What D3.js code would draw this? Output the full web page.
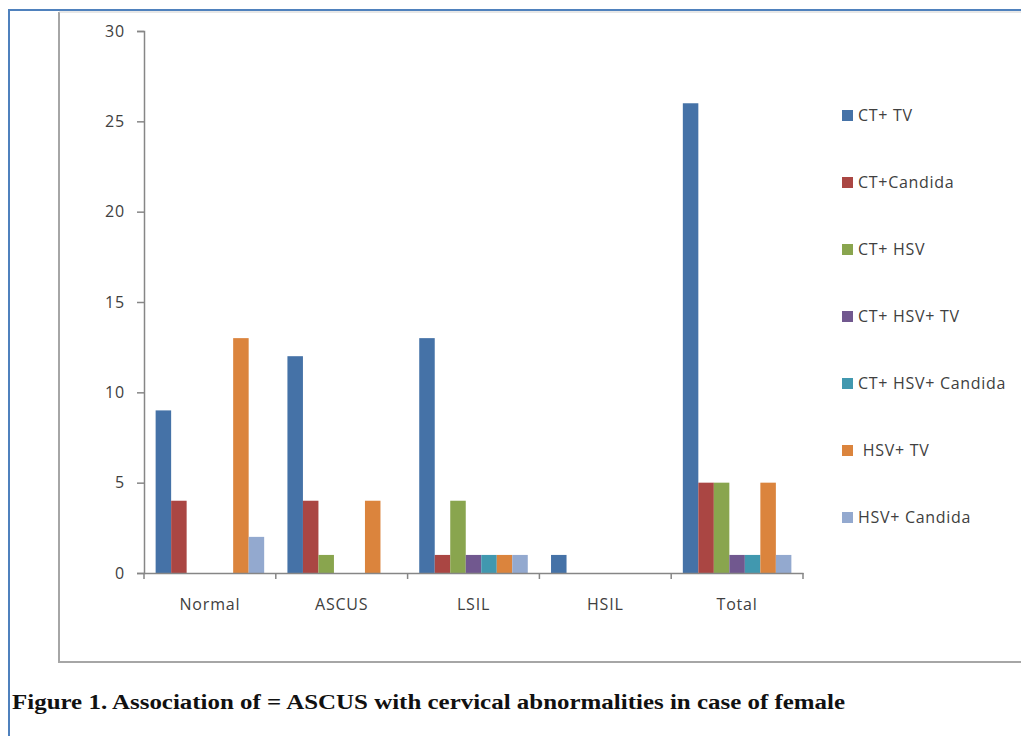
<!DOCTYPE html>
<html>
<head>
<meta charset="utf-8">
<script src="https://d3js.org/d3.v7.min.js"></script>
<style>
  body { margin: 0; background: #fff; }
</style>
</head>
<body>
<svg width="1021" height="736"></svg>
<script>
    // data
    var categories = ['Normal', 'ASCUS', 'LSIL', 'HSIL', 'Total'];
    var seriesNames = ['CT+ TV', 'CT+Candida', 'CT+ HSV', 'CT+ HSV+ TV', 'CT+ HSV+ Candida', ' HSV+ TV', 'HSV+ Candida'];
    var ctTv        = [9, 12, 13, 1, 26];
    var ctCandida   = [4, 4, 1, 0, 5];
    var ctHsv       = [0, 1, 4, 0, 5];
    var ctHsvTv     = [0, 0, 1, 0, 1];
    var ctHsvCand   = [0, 0, 1, 0, 1];
    var hsvTv       = [13, 4, 1, 0, 5];
    var hsvCandida  = [2, 0, 1, 0, 1];
    var yTicks = [0, 5, 10, 15, 20, 25, 30];

    var seriesValues = [ctTv, ctCandida, ctHsv, ctHsvTv, ctHsvCand, hsvTv, hsvCandida];
    var colors = ['#4572a7', '#aa4643', '#89a54e', '#71588f', '#4198af', '#db843d', '#93a9cf'];

    var svg = d3.select('svg');
    var font = '"Open Sans", Lato, sans-serif';

    // page frame
    svg.append('path')
        .attr('d', 'M9,736 V10 H1021')
        .attr('fill', 'none')
        .attr('stroke', '#4f81bd')
        .attr('stroke-width', 2);

    svg.append('path')
        .attr('d', 'M59,12 V662 H1021')
        .attr('fill', 'none')
        .attr('stroke', '#a6a6a6')
        .attr('stroke-width', 2);
    svg.append('path')
        .attr('d', 'M59,12 H1021')
        .attr('fill', 'none')
        .attr('stroke', '#d0d0d0')
        .attr('stroke-width', 1);

    var x0 = d3.scaleBand()
        .domain(categories)
        .range([144, 803])
        .padding(0);

    var x1 = d3.scaleBand()
        .domain(d3.range(seriesNames.length))
        .range([0, x0.bandwidth()])
        .paddingInner(0)
        .paddingOuter(0.75);

    var y = d3.scaleLinear()
        .domain([0, 30])
        .range([573, 31]);

    var rows = [];
    seriesValues.forEach(function(vals, s) {
        vals.forEach(function(v, c) {
            rows.push({ series: s, cat: categories[c], value: v });
        });
    });

    svg.append('g')
        .selectAll('rect')
        .data(rows.filter(d => d.value > 0))
        .join('rect')
        .attr('x', d => x0(d.cat) + x1(d.series))
        .attr('y', d => y(d.value))
        .attr('width', x1.bandwidth())
        .attr('height', d => y(0) - y(d.value))
        .attr('fill', d => colors[d.series]);

    // y axis
    var yAxis = svg.append('g')
        .attr('transform', 'translate(144,0)')
        .call(d3.axisLeft(y).tickValues(yTicks).tickSize(7).tickPadding(12));
    yAxis.select('.domain').attr('stroke', '#868686').attr('stroke-width', 1.5);
    yAxis.selectAll('.tick line').attr('stroke', '#868686').attr('stroke-width', 1.5);
    yAxis.selectAll('.tick text')
        .attr('font-family', font)
        .attr('font-size', 16)
        .attr('letter-spacing', 0.8)
        .attr('fill', '#404040');

    // x axis
    var xAxis = svg.append('g')
        .attr('transform', 'translate(0,573)')
        .call(d3.axisBottom(x0).tickSize(0).tickPadding(26));
    xAxis.select('.domain').attr('stroke', '#868686').attr('stroke-width', 1.5);
    xAxis.selectAll('.tick text')
        .attr('font-family', font)
        .attr('font-size', 16)
        .attr('letter-spacing', 0.8)
        .attr('fill', '#404040');

    var edges = categories.map(c => x0(c)).concat([x0.range()[1]]);
    xAxis.append('g')
        .selectAll('line')
        .data(edges)
        .join('line')
        .attr('x1', d => d)
        .attr('x2', d => d)
        .attr('y1', 0)
        .attr('y2', 6)
        .attr('stroke', '#868686')
        .attr('stroke-width', 1.5);

    // legend
    var legend = svg.append('g')
        .selectAll('g')
        .data(seriesNames)
        .join('g')
        .attr('transform', (d, i) => `translate(842,${115 + i * 67})`);
    legend.append('rect')
        .attr('x', 0)
        .attr('y', -5)
        .attr('width', 11)
        .attr('height', 11)
        .attr('fill', (d, i) => colors[i]);
    legend.append('text')
        .attr('x', 16)
        .attr('y', 6)
        .attr('xml:space', 'preserve')
        .style('white-space', 'pre')
        .attr('font-family', font)
        .attr('font-size', 16)
        .attr('letter-spacing', 0.7)
        .attr('fill', '#404040')
        .text(d => d);

    // caption (glyphs in the figure are horizontally stretched)
    svg.append('text')
        .attr('transform', 'translate(12,709) scale(1.18,1)')
        .attr('font-family', '"Liberation Serif", "Times New Roman", serif')
        .attr('font-weight', 'bold')
        .attr('font-size', 21)
        .attr('textLength', 706)
        .attr('lengthAdjust', 'spacingAndGlyphs')
        .attr('fill', '#111')
        .text('Figure 1. Association of = ASCUS with cervical abnormalities in case of female');
</script>
</body>
</html>
